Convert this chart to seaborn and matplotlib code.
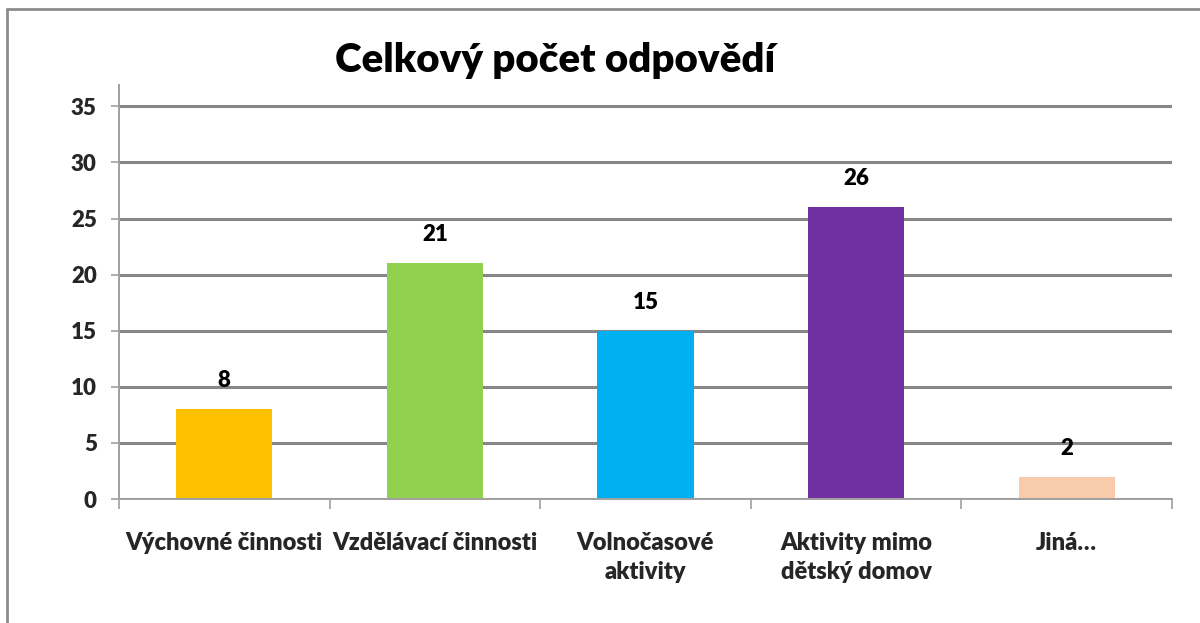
import matplotlib
matplotlib.use("Agg")
import matplotlib.pyplot as plt
from matplotlib.lines import Line2D
import seaborn as sns
import pandas as pd

categories = ["Výchovné činnosti", "Vzdělávací činnosti", "Volnočasové\naktivity",
              "Aktivity mimo\ndětský domov", "Jiná…"]
values = [8, 21, 15, 26, 2]
colors = ["#FFC000", "#92D050", "#00B0F0", "#7030A0", "#F8CBAD"]
y_ticks = [0, 5, 10, 15, 20, 25, 30, 35]
title = "Celkový počet odpovědí"

sns.set_theme(style="white")
plt.rcParams["font.family"] = ["Lato", "DejaVu Sans"]
W = "heavy"
plt.rcParams["font.weight"] = W

df = pd.DataFrame({"cat": categories, "val": values})

fig = plt.figure(figsize=(12, 6.23), dpi=100)
fig.patch.set_facecolor("white")
ax = fig.add_axes([119 / 1200, 1 - 499 / 623, (1172 - 119) / 1200, (499 - 85) / 623])

sns.barplot(data=df, x="cat", y="val", hue="cat", palette=colors, order=categories,
            hue_order=categories, width=0.457, legend=False, ax=ax, saturation=1,
            linewidth=0, edgecolor="none", zorder=3)

ax.set_xlim(-0.5, len(categories) - 0.5)
ax.set_ylim(0, 36.9)
ax.set_yticks(y_ticks)
ax.set_yticklabels([str(t) for t in y_ticks], fontsize=16, fontweight=W)
ax.yaxis.grid(True, color="#878787", linewidth=2.2, zorder=0)
ax.set_axisbelow(True)
ax.xaxis.grid(False)

# category boundaries as major ticks, labels as minor ticks
ax.set_xticks([i - 0.5 for i in range(len(categories) + 1)])
ax.set_xticklabels([""] * (len(categories) + 1))
ax.set_xticks(range(len(categories)), minor=True)
ax.set_xticklabels(categories, minor=True, fontsize=17, fontweight=W,
                   linespacing=1.35, va="top")
ax.tick_params(axis="x", which="major", direction="out", length=7, width=1.2,
               color="#a0a0a0", bottom=True)
ax.tick_params(axis="x", which="minor", length=0, pad=24, bottom=True)
ax.tick_params(axis="y", direction="out", length=6, width=1.2, color="#a0a0a0",
               left=True, pad=10)

ax.set_xlabel("")
ax.set_ylabel("")
for s in ["top", "right"]:
    ax.spines[s].set_visible(False)
for s in ["left", "bottom"]:
    ax.spines[s].set_color("#a0a0a0")
    ax.spines[s].set_linewidth(1.4)
    ax.spines[s].set_zorder(4)

for i, v in enumerate(values):
    ax.annotate(str(v), xy=(i, v), xytext=(0, 13), textcoords="offset points",
                ha="center", va="bottom", fontsize=16, fontweight=W, color="black")

fig.text(555 / 1200, 1 - 72 / 623, title, ha="center", va="baseline",
         fontsize=29, fontweight=W, color="black")

# chart-area border (left and top edges visible)
fig.add_artist(Line2D([7 / 1200, 7 / 1200], [0, 1 - 9 / 623], transform=fig.transFigure,
                      color="#8c8c8c", linewidth=2))
fig.add_artist(Line2D([7 / 1200, 1], [1 - 9 / 623, 1 - 9 / 623], transform=fig.transFigure,
                      color="#8c8c8c", linewidth=2))

fig.savefig("out.png", dpi=100, facecolor="white")
